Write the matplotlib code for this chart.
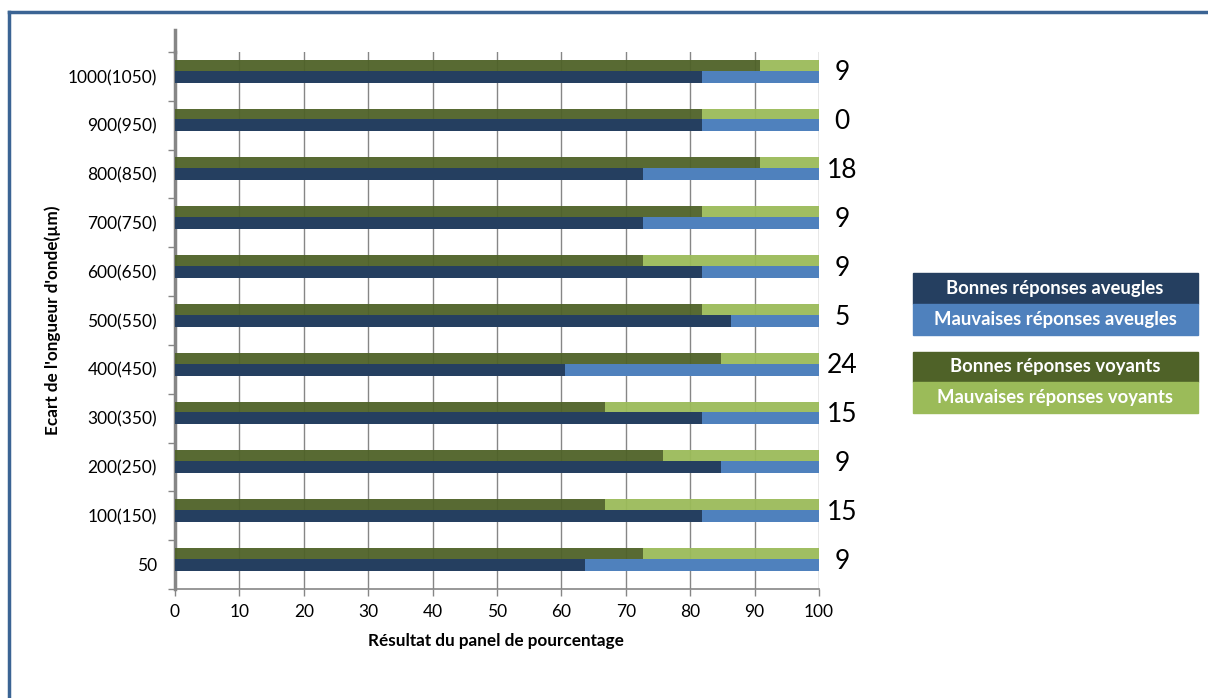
import numpy as np
import matplotlib.pyplot as plt
from matplotlib.patches import Rectangle
from matplotlib.lines import Line2D

plt.rcParams['font.family'] = ['Lato', 'DejaVu Sans']

categories = ['50', '100(150)', '200(250)', '300(350)', '400(450)', '500(550)',
              '600(650)', '700(750)', '800(850)', '900(950)', '1000(1050)']
bonnes_aveugles = [63.6, 81.8, 84.8, 81.8, 60.6, 86.4, 81.8, 72.7, 72.7, 81.8, 81.8]
mauvaises_aveugles = [36.4, 18.2, 15.2, 18.2, 39.4, 13.6, 18.2, 27.3, 27.3, 18.2, 18.2]
bonnes_voyants = [72.7, 66.7, 75.8, 66.7, 84.8, 81.8, 72.7, 81.8, 90.9, 81.8, 90.9]
mauvaises_voyants = [27.3, 33.3, 24.2, 33.3, 15.2, 18.2, 27.3, 18.2, 9.1, 18.2, 9.1]
ecarts = [9, 15, 9, 15, 24, 5, 9, 9, 18, 0, 9]

series_names = ['Bonnes réponses aveugles', 'Mauvaises réponses aveugles',
                'Bonnes réponses voyants', 'Mauvaises réponses voyants']
colors = ['#253F60', '#4F81BD', '#4F6228', '#9BBB59']

W, H = 1208, 698
fig = plt.figure(figsize=(W / 100, H / 100), dpi=100)
ax = fig.add_axes([175 / W, 1 - 589 / H, (819 - 175) / W, (589 - 52) / H])

y = np.arange(len(categories))
ax.barh(y + 0.495, bonnes_aveugles, height=0.245, color=colors[0], zorder=3)
ax.barh(y + 0.495, mauvaises_aveugles, left=bonnes_aveugles, height=0.245,
        color=colors[1], zorder=3)
ax.barh(y + 0.729, bonnes_voyants, height=0.222, color=colors[2], alpha=0.95, zorder=3)
ax.barh(y + 0.729, mauvaises_voyants, left=bonnes_voyants, height=0.222,
        color=colors[3], alpha=0.95, zorder=3)

for i, e in enumerate(ecarts):
    ax.text(103.6, i + 0.57, str(e), ha='center', va='center', fontsize=19,
            clip_on=False)

ax.set_xlim(0, 100)
ax.set_ylim(0, len(categories))
ax.set_xticks(np.arange(0, 101, 10))
ax.tick_params(axis='x', labelsize=12.5, length=5, width=1, color='#868686', pad=6)
ax.set_yticks(np.arange(0, len(categories) + 1))
ax.set_yticklabels([])
ax.set_yticks(y + 0.5, minor=True)
ax.set_yticklabels(categories, minor=True)
ax.tick_params(axis='y', which='major', length=5, width=1, color='#868686')
ax.tick_params(axis='y', which='minor', length=0, labelsize=12.5, pad=13)

ax.grid(axis='x', color='#868686', lw=1, zorder=1)
ax.set_axisbelow(True)
for s in ['top', 'right']:
    ax.spines[s].set_visible(False)
ax.spines['left'].set_color('#868686')
ax.spines['left'].set_linewidth(2.5)
ax.spines['bottom'].set_color('#868686')
ax.spines['bottom'].set_linewidth(1.2)
# axis line goes a bit above the plot area
ax.plot([0, 0], [len(categories), len(categories) + 0.45], color='#868686',
        lw=2.5, clip_on=False, zorder=4)

fig.text(496 / W, 1 - 641 / H, 'Résultat du panel de pourcentage',
         ha='center', va='center', fontsize=12.3, fontweight='bold')
fig.text(53 / W, 1 - 320 / H, "Ecart de l'ongueur d'onde(µm)", rotation=90,
         ha='center', va='center', fontsize=12.3, fontweight='bold')

# legend boxes
boxes = [(273, 304), (304, 335), (352, 382), (382, 413)]
for (top, bot), name, c in zip(boxes, series_names, colors):
    fig.patches.append(Rectangle((913 / W, 1 - bot / H), (1198 - 913) / W,
                                 (bot - top) / H, transform=fig.transFigure,
                                 color=c, zorder=1))
    fig.text(1055 / W, 1 - (top + bot) / 2 / H, name, ha='center', va='center',
             color='white', fontsize=13.3, fontweight='bold', zorder=2)

# outer frame
frame_col = '#3B6494'
fig.add_artist(Line2D([9 / W, 1], [1 - 12 / H, 1 - 12 / H], color=frame_col, lw=2.5))
fig.add_artist(Line2D([9 / W, 9 / W], [0, 1 - 12 / H], color=frame_col, lw=2.5))

fig.savefig('out.png', dpi=100)
